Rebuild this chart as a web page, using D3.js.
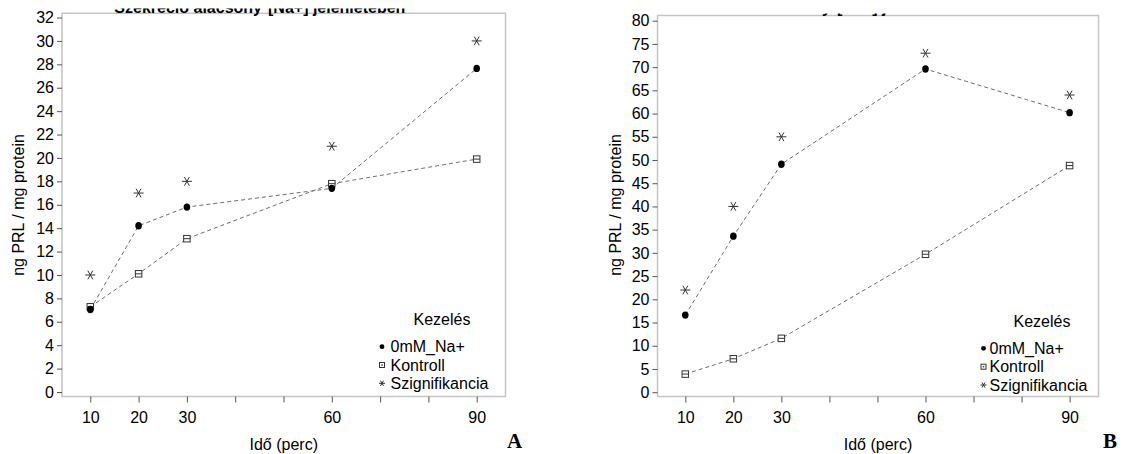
<!DOCTYPE html>
<html><head><meta charset="utf-8">
<script src="https://cdn.jsdelivr.net/npm/d3@7"></script>
<style>
html,body{margin:0;padding:0;background:#fff;}
svg{display:block;font-family:"Liberation Sans",Arial,sans-serif;}
</style></head>
<body>
<svg id="chart" width="1123" height="454"></svg>
<script>
// ---- data ----
const times = [10, 20, 30, 60, 90];
const xTicks = [10, 20, 30, 40, 50, 60, 70, 80, 90];
const xTickLabels = ["10", "20", "30", "", "", "60", "", "", "90"];
const seriesNames = ["0mM_Na+", "Kontroll", "Szignifikancia"];
const legendTitle = "Kezelés";
const xTitle = "Idő (perc)";
const yTitle = "ng PRL / mg protein";
const titleLeft = "Szekréció alacsony";
const titleRight = "[Na+] jelenlétében";

const aNa0 = [7.05, 14.2, 15.8, 17.4, 27.65];
const aKontroll = [7.28, 10.1, 13.1, 17.8, 19.9];
const aSzign = [10, 17, 18, 21, 30];
const aYTicks = d3.range(0, 33, 2);

const bNa0 = [16.6, 33.6, 49.1, 69.6, 60.2];
const bKontroll = [3.9, 7.2, 11.6, 29.7, 48.8];
const bSzign = [22, 40, 55, 73, 64];
const bYTicks = d3.range(0, 81, 5);

const svg = d3.select("#chart");
const defs = svg.append("defs");

function drawPanel(cfg) {
  const g = svg.append("g");
  const x = d3.scaleLinear().domain([10, 90]).range([cfg.x10, cfg.x90]);
  const y = d3.scaleLinear().domain(cfg.yDomain).range([cfg.y0, cfg.yTop]);

  // frame
  g.append("rect").attr("x", cfg.left).attr("y", cfg.top)
    .attr("width", cfg.right - cfg.left).attr("height", cfg.bottom - cfg.top)
    .attr("fill", "#fff").attr("stroke", "#c4c4c4").attr("stroke-width", 1.5);

  // title (cut-off)
  const cid = "clip" + cfg.id;
  defs.append("clipPath").attr("id", cid).append("rect")
    .attr("x", cfg.left + 20).attr("y", cfg.titleClipTop)
    .attr("width", cfg.right - cfg.left - 40).attr("height", 20);
  const tg = g.append("g").attr("clip-path", `url(#${cid})`)
    .attr("font-size", 16).attr("font-weight", "bold").attr("fill", "#000");
  tg.append("text").attr("x", cfg.titleSplit - 3).attr("y", 13.3)
    .attr("text-anchor", "end").text(titleLeft);
  tg.append("text").attr("x", cfg.titleSplit + 3).attr("y", 13.3)
    .attr("text-anchor", "start").text(titleRight);

  // y axis
  const yAxis = d3.axisLeft(y).tickValues(cfg.yTicks).tickSize(5).tickPadding(3)
    .tickFormat(d3.format("d"));
  const ya = g.append("g").attr("transform", `translate(${cfg.left},0)`).call(yAxis);
  ya.select(".domain").remove();
  ya.selectAll("line").attr("stroke", "#555");
  ya.selectAll("text").attr("font-size", 16).attr("fill", "#000")
    .attr("font-family", "Liberation Sans, Arial, sans-serif");

  // x axis
  const xAxis = d3.axisBottom(x).tickValues(xTicks).tickSize(6).tickPadding(9)
    .tickFormat((d, i) => xTickLabels[i]);
  const xa = g.append("g").attr("transform", `translate(0,${cfg.bottom})`).call(xAxis);
  xa.select(".domain").remove();
  xa.selectAll("line").attr("stroke", "#555");
  xa.selectAll("text").attr("font-size", 16).attr("fill", "#000")
    .attr("font-family", "Liberation Sans, Arial, sans-serif");

  // axis titles
  g.append("text").attr("x", (cfg.left + cfg.right) / 2).attr("y", 450)
    .attr("text-anchor", "middle").attr("font-size", 16).text(xTitle);
  g.append("text").attr("transform", `translate(${cfg.yTitleX},205) rotate(-90)`)
    .attr("text-anchor", "middle").attr("dy", "0.35em").attr("font-size", 16).text(yTitle);

  // lines
  const line = d3.line().x((d, i) => x(times[i])).y(d => y(d));
  [cfg.na0, cfg.kontroll].forEach(s => {
    g.append("path").attr("d", line(s)).attr("fill", "none")
      .attr("stroke", "#6e6e6e").attr("stroke-width", 1).attr("stroke-dasharray", "4,3");
  });

  // markers
  g.selectAll(".sq").data(cfg.kontroll).enter().append("g")
    .attr("transform", (d, i) => `translate(${x(times[i])},${y(d)})`)
    .each(function () { square(d3.select(this), 6.5, true); });
  g.selectAll(".dot").data(cfg.na0).enter().append("ellipse")
    .attr("cx", (d, i) => x(times[i])).attr("cy", d => y(d))
    .attr("rx", 3.3).attr("ry", 3.7).attr("fill", "#000");
  g.selectAll(".star").data(cfg.szign).enter().append("g")
    .attr("transform", (d, i) => `translate(${x(times[i])},${y(d)})`)
    .each(function () { star(d3.select(this), 5); });

  // legend
  const lg = g.append("g").attr("font-size", 16).attr("fill", "#000");
  lg.append("text").attr("x", cfg.legTitleX).attr("y", cfg.legY[0])
    .attr("dy", "0.35em").attr("text-anchor", "middle").text(legendTitle);
  seriesNames.forEach((name, i) => {
    const yy = cfg.legY[i + 1];
    lg.append("text").attr("x", cfg.legTextX).attr("y", yy).attr("dy", "0.35em").text(name);
    const sg = lg.append("g").attr("transform", `translate(${cfg.legSymX},${yy})`);
    if (i === 0) sg.append("circle").attr("r", 2.4).attr("fill", "#000");
    else if (i === 1) square(sg, 5, false);
    else star(sg, 3);
  });

  // panel letter
  g.append("text").attr("x", cfg.letterX).attr("y", 448)
    .attr("font-family", "Liberation Serif, Times New Roman, serif")
    .attr("font-weight", "bold").attr("font-size", 21).text(cfg.letter);
}

function square(sel, s, bar) {
  sel.append("rect").attr("x", -s / 2).attr("y", -s / 2).attr("width", s).attr("height", s)
    .attr("fill", "#fff").attr("stroke", "#333").attr("stroke-width", 1);
  if (bar) sel.append("line").attr("x1", -s / 2).attr("x2", s / 2).attr("y1", 0).attr("y2", 0)
    .attr("stroke", "#333").attr("stroke-width", 1);
  else sel.append("rect").attr("x", -0.8).attr("y", -0.8).attr("width", 1.6).attr("height", 1.6)
    .attr("fill", "#555");
}

function star(sel, r) {
  [0, 60, 120].forEach(a => {
    const t = a * Math.PI / 180;
    sel.append("line")
      .attr("x1", -r * Math.cos(t)).attr("y1", -r * Math.sin(t))
      .attr("x2", r * Math.cos(t)).attr("y2", r * Math.sin(t))
      .attr("stroke", "#333").attr("stroke-width", 1);
  });
}

drawPanel({
  id: "A", letter: "A", letterX: 507,
  left: 62, right: 505.5, top: 13.3, bottom: 396.5,
  x10: 90.3, x90: 476.7, yDomain: [0, 32], y0: 392, yTop: 17.5, yTicks: aYTicks,
  na0: aNa0, kontroll: aKontroll, szign: aSzign,
  yTitleX: 18, titleSplit: 265, titleClipTop: 8.5,
  legTitleX: 442, legY: [319, 346.7, 365, 383.3], legSymX: 382, legTextX: 390.5
});
drawPanel({
  id: "B", letter: "B", letterX: 1103,
  left: 657.5, right: 1098.5, top: 15.5, bottom: 396.5,
  x10: 685.3, x90: 1069.6, yDomain: [0, 80], y0: 392.2, yTop: 20.7, yTicks: bYTicks,
  na0: bNa0, kontroll: bKontroll, szign: bSzign,
  yTitleX: 615, titleSplit: 834, titleClipTop: 13.6,
  legTitleX: 1042, legY: [321, 348.3, 366.7, 385], legSymX: 983.5, legTextX: 989.5
});
</script>
</body></html>
